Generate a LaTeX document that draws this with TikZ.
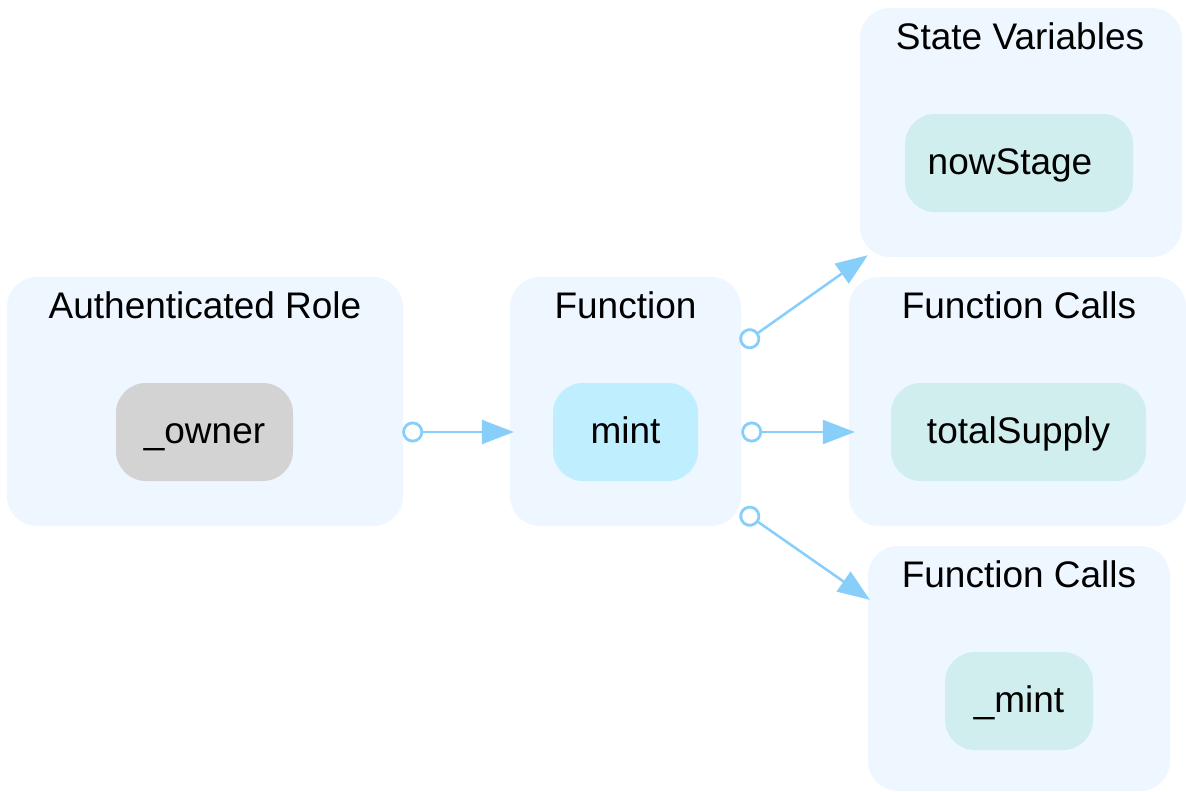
\documentclass[tikz,border=0pt]{standalone}
\usepackage{fontspec}
\setmainfont{Liberation Sans}
\usetikzlibrary{arrows.meta,calc}
\definecolor{clusterfill}{HTML}{EEF6FF}
\definecolor{edgecol}{HTML}{87CEFA}
\definecolor{rolefill}{HTML}{D3D3D3}
\definecolor{fnfill}{HTML}{BFEFFF}
\definecolor{callfill}{HTML}{D1EEEE}
\tikzset{
  cluster/.style={draw=none, fill=clusterfill, rounded corners=30pt, inner sep=0pt},
  title/.style={anchor=base, font=\fontsize{37}{44}\selectfont, inner sep=0pt},
  item/.style={draw=none, rounded corners=30pt, minimum height=98pt, inner sep=0pt,
    font=\fontsize{37}{44}\selectfont, text height=22pt, text depth=0pt},
  conn/.style={draw=edgecol, line width=2.5pt,
    arrows={{Circle[open,length=21pt,width=21pt,fill=white,line width=2.8pt]}-{Triangle[length=32pt,width=24pt]}}},
}
\begin{document}
\begin{tikzpicture}[x=1pt,y=-1pt]
\useasboundingbox (0,0) rectangle (1186,792);
% clusters
\node[cluster, minimum width=396pt, minimum height=249pt] (auth) at (205,401.5) {};
\node[cluster, minimum width=231pt, minimum height=249pt] (fn) at (625.5,401.5) {};
\node[cluster, minimum width=322pt, minimum height=249pt] (sv) at (1021,132.5) {};
\node[cluster, minimum width=337pt, minimum height=249pt] (fc1) at (1017.5,401.5) {};
\node[cluster, minimum width=302pt, minimum height=245pt] (fc2) at (1019,668.5) {};
% titles
\node[title] (tauth) at (205,318) {Authenticated Role};
\node[title] (tfn) at (625.5,318) {Function};
\node[title] (tsv) at (1020,49) {State Variables};
\node[title] (tfc1) at (1019,318) {Function Calls};
\node[title] (tfc2) at (1019,587) {Function Calls};
% items
\node[item, fill=rolefill, minimum width=177pt] (owner) at (204.5,432) {\_owner};
\node[item, fill=fnfill, minimum width=145pt] (mint) at (625.5,432) {mint};
\node[item, fill=callfill, minimum width=228pt] (now) at (1019,163) {nowStage\rule{18pt}{0pt}};
\node[item, fill=callfill, minimum width=255pt] (total) at (1018.5,432) {totalSupply};
\node[item, fill=callfill, minimum width=148pt] (imint) at (1019,701) {\_mint};
% connectors
\draw[conn, shorten >=-4pt, shorten <=-1pt] (auth.east |- owner) -- (fn.west |- mint);
\coordinate (t2) at ($(fn.north east)+(0,68)$);
\coordinate (h2) at ($(sv.south west)+(8,-2)$);
\draw[conn] (t2) -- (h2);
\draw[conn, shorten >=-6pt] (fn.east |- mint) -- (fc1.west |- total);
\coordinate (t4) at ($(fn.south east)+(0,-16)$);
\coordinate (h4) at ($(fc2.north west)+(2,54)$);
\draw[conn] (t4) -- (h4);
\end{tikzpicture}
\end{document}
